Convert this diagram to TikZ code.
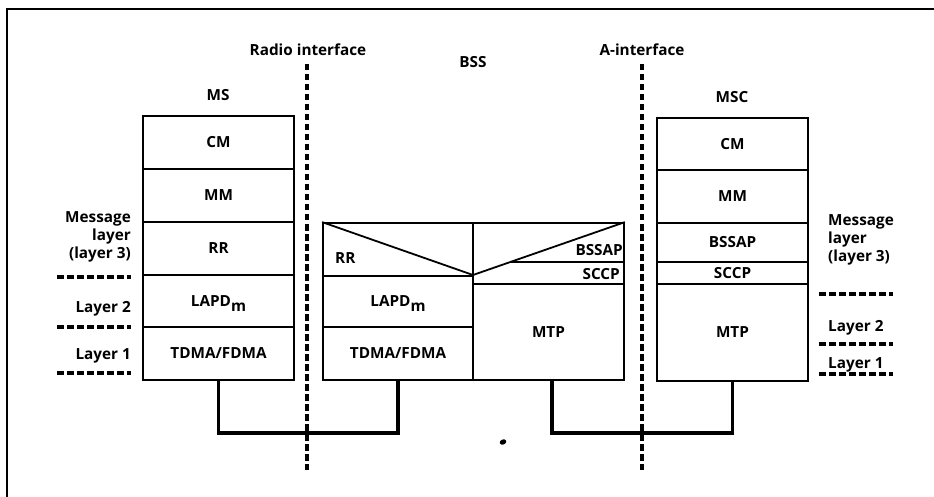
\documentclass[tikz,border=0pt]{standalone}
\usepackage{fontspec}
\newfontfamily\lblfont{Open Sans}
\newcommand{\lapdm}{LAPD\raisebox{-5pt}[0pt][0pt]{m}}
\begin{document}
\begin{tikzpicture}[x=1pt,y=-1pt,
  every node/.style={font=\lblfont\bfseries\fontsize{15.3}{18}\selectfont},
  lay/.style={draw, line width=1.8pt, inner sep=0pt, minimum width=151pt},
  txt/.style={inner sep=0pt},
  iface/.style={line width=3.4pt, dash pattern=on 6.5pt off 3.5pt},
  lvl/.style={line width=3.2pt, dash pattern=on 6.5pt off 3.5pt},
  conn/.style={line width=3.6pt},
  thinl/.style={line width=1.8pt},
  frame/.style={line width=2.2pt}]
\useasboundingbox (0,0) rectangle (934,497);
% frame
\draw[frame] (7,497) -- (7,9) -- (934,9);

% interface lines
\coordinate (radioTop) at (307,64);
\coordinate (radioBot) at (307,470);
\coordinate (aTop) at (642,64);
\coordinate (aBot) at (642,470);
\draw[iface] (radioTop) -- (radioBot);
\draw[iface] (aTop) -- (aBot);

% top labels
\node[txt, anchor=base] (radioLbl) at (308,56) {Radio interface};
\node[txt, anchor=base] (aLbl) at (642,56) {A-interface};
\node[txt, anchor=base] (bssLbl) at (473,68) {BSS};
\node[txt, anchor=base] (msLbl) at (218,101) {MS};
\node[txt, anchor=base] (mscLbl) at (732,103) {MSC};

% MS stack
\node[lay, minimum height=53pt] (msCM) at (218.5,142.5) {CM};
\node[lay, minimum height=53pt] (msMM) at (218.5,195.5) {MM};
\node[lay, minimum height=53pt] (msRR) at (218.5,248.5) {RR};
\node[lay, minimum height=52pt] (msLAPD) at (218.5,301) {\lapdm};
\node[lay, minimum height=53pt] (msTDMA) at (218.5,353.5) {TDMA/FDMA};

% BSS stack
\node[lay, minimum width=150pt, minimum height=53pt] (bssRRbox) at (398,249.5) {};
\node[lay, minimum width=150pt, minimum height=51pt] (bssLAPD) at (398,301.5) {\lapdm};
\node[lay, minimum width=150pt, minimum height=53pt] (bssTDMA) at (398,353.5) {TDMA/FDMA};
\node[lay, minimum height=61pt] (bssTop) at (548.5,253.5) {};
\node[lay, minimum height=96pt] (bssMTP) at (548.5,332) {MTP};
\coordinate (apex) at (473,275);
\coordinate (bsep) at (510.75,262);
\draw[thinl] (bssRRbox.north west) -- (apex) -- (bssTop.north east);
\draw[thinl] (bsep) -- (bsep -| bssTop.east);
\node[txt, anchor=base west] (bssRR) at (335,263) {RR};
\node[txt, anchor=base east] (bssBSSAP) at (623,255) {BSSAP};
\node[txt, anchor=base east] (bssSCCP) at (620,279) {SCCP};

% MSC stack
\node[lay, minimum height=52pt] (mscCM) at (732.5,144) {CM};
\node[lay, minimum height=53pt] (mscMM) at (732.5,196.5) {MM};
\node[lay, minimum height=39pt] (mscBSSAP) at (732.5,242.5) {BSSAP};
\node[lay, minimum height=22pt] (mscSCCP) at (732.5,273) {SCCP};
\node[lay, minimum height=97pt] (mscMTP) at (732.5,332.5) {MTP};

% connectors
\draw[conn] (msTDMA.south) -- ++(0,52) -| (bssTDMA.south);
\draw[conn] ([xshift=3.5pt]bssMTP.south) -- ++(0,52) -| (mscMTP.south);

% left layer labels
\node[txt, anchor=east, align=right] (lMsg) at (131,237) {Message\\layer\\(layer 3)};
\node[txt, anchor=base east] (lL2) at (131,312) {Layer 2};
\node[txt, anchor=base east] (lL1) at (131,359) {Layer 1};
\coordinate (ld1a) at (57,277); \coordinate (ld1b) at (131,277);
\coordinate (ld2a) at (57,327); \coordinate (ld2b) at (131,327);
\coordinate (ld3a) at (57,373); \coordinate (ld3b) at (131,373);
\draw[lvl] (ld1a) -- (ld1b);
\draw[lvl] (ld2a) -- (ld2b);
\draw[lvl] (ld3a) -- (ld3b);

% right layer labels
\node[txt, anchor=west, align=left] (rMsg) at (828,240) {Message\\layer\\(layer 3)};
\node[txt, anchor=base west] (rL2) at (828,331) {Layer 2};
\node[txt, anchor=base west] (rL1) at (828,368) {Layer 1};
\coordinate (rd1a) at (819,294); \coordinate (rd1b) at (893,294);
\coordinate (rd2a) at (819,344); \coordinate (rd2b) at (893,344);
\coordinate (rd3a) at (819,374); \coordinate (rd3b) at (893,374);
\draw[lvl] (rd1a) -- (rd1b);
\draw[lvl] (rd2a) -- (rd2b);
\draw[lvl] (rd3a) -- (rd3b);

% speck
\fill[rotate around={25:(503,442)}] (503,442) ellipse [x radius=3.4pt, y radius=2.6pt];
\end{tikzpicture}
\end{document}
